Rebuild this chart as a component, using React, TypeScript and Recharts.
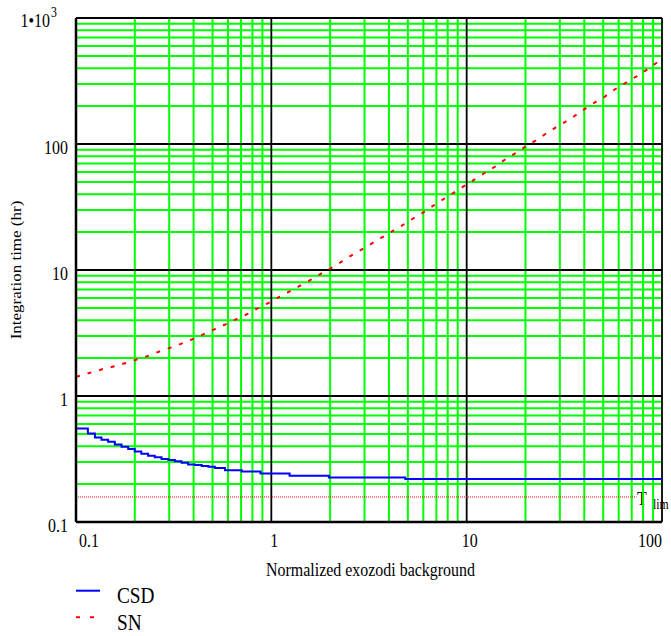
import { Customized, Line, LineChart, ReferenceLine, XAxis, YAxis } from "recharts";

// SN curve (red dashed)
const snX = [
  0.1, 0.12, 0.14, 0.16, 0.18, 0.21, 0.24, 0.27, 0.31, 0.36, 0.41, 0.47, 0.53, 0.6, 0.68, 0.77, 0.86,
  0.97, 1.1, 1.24, 1.39, 1.57, 1.78, 2.01, 2.26, 2.55, 2.87, 3.24, 3.65, 4.11, 4.68, 5.27, 5.97, 6.75,
  7.53, 8.52, 9.5, 10.8, 12.3, 13.9, 15.8, 17.8, 19.9, 22.6, 25.3, 28.5, 32, 36.1, 40.3, 45.5, 51,
  57.7, 65.2, 74.5, 84.5, 95, 100,
];
const snY = [
  1.42, 1.54, 1.65, 1.73, 1.83, 1.97, 2.11, 2.27, 2.44, 2.66, 2.89, 3.19, 3.47, 3.78, 4.15, 4.54, 5.01,
  5.49, 6.13, 6.76, 7.45, 8.26, 9.27, 10.3, 11.5, 12.97, 14.4, 16.1, 18.0, 20.1, 22.6, 25.4, 28.5, 32.4,
  36.1, 40.8, 45.4, 51.5, 58.6, 65.8, 75.7, 84.5, 94.8, 107, 120, 135, 150, 169, 190, 215, 238,
  273, 306, 346, 393, 447, 470,
];

// CSD curve (blue, stepped)
const csdX = [
  0.1, 0.115, 0.125, 0.135, 0.146, 0.158, 0.171, 0.185, 0.2, 0.216, 0.234, 0.253, 0.274, 0.297, 0.321,
  0.347, 0.375, 0.406, 0.44, 0.476, 0.514, 0.579, 0.705, 0.88, 1.24, 1.97, 4.85, 100,
];
const csdY = [
  0.553, 0.505, 0.469, 0.45, 0.434, 0.413, 0.396, 0.379, 0.363, 0.348, 0.336, 0.326, 0.316, 0.31, 0.303,
  0.295, 0.286, 0.283, 0.278, 0.2745, 0.268, 0.258, 0.252, 0.243, 0.233, 0.226, 0.219, 0.219,
];

// T lim reference level
const tlimX = [0.1, 74];
const tlimY = [0.158, 0.158];

const xTicks = [0.1, 1, 10, 100];
const yTicks = [0.1, 1, 10, 100, 1000];
const xMinor = [
  0.2, 0.3, 0.4, 0.5, 0.6, 0.7, 0.8, 0.9, 2, 3, 4, 5, 6, 7, 8, 9, 20, 30, 40, 50, 60, 70, 80, 90,
];
const yMinor = [
  0.2, 0.3, 0.4, 0.5, 0.6, 0.7, 0.8, 0.9, 2, 3, 4, 5, 6, 7, 8, 9, 20, 30, 40, 50, 60, 70, 80, 90,
  200, 300, 400, 500, 600, 700, 800, 900,
];

const zip = (xs: number[], ys: number[]) => xs.map((x, i) => ({ x, y: ys[i] }));
const snData = zip(snX, snY);
const csdData = zip(csdX, csdY);
const tlimData = zip(tlimX, tlimY);

const FONT = '"Liberation Serif", "Times New Roman", "DejaVu Serif", serif';
const W = 671;
const H = 636;
const PLOT = { left: 76, top: 18, right: 662, bottom: 522 };

function SText({ x, y, size, anchor = "start", children }: any) {
  return (
    <text
      transform={`translate(${x},${y}) scale(0.84,1)`}
      textAnchor={anchor}
      fill="#000"
      style={{ fontFamily: FONT, fontSize: size }}
    >
      {children}
    </text>
  );
}

function XTick({ x, payload, index, visibleTicksCount }: any) {
  const anchor = index === 0 ? "start" : index === visibleTicksCount - 1 ? "end" : "middle";
  return (
    <SText x={x + 3} y={PLOT.bottom + 25} size={19} anchor={anchor}>
      {payload.value}
    </SText>
  );
}

function YTick({ y, payload }: any) {
  if (payload.value === 1000) {
    return (
      <g>
        <SText x={50} y={y + 9} size={19} anchor="end">
          1•10
        </SText>
        <SText x={51} y={y - 1} size={14}>
          3
        </SText>
      </g>
    );
  }
  return (
    <SText x={68} y={y + 10} size={19} anchor="end">
      {payload.value}
    </SText>
  );
}

function Overlay() {
  return (
    <g>
      {/* T lim label */}
      <rect x={636} y={490} width={35} height={21} fill="#fff" />
      <SText x={637} y={505} size={19}>
        T
      </SText>
      <SText x={653} y={509} size={14}>
        lim
      </SText>
      {/* axis titles */}
      <SText x={370.5} y={576} size={19} anchor="middle">
        Normalized exozodi background
      </SText>
      <text
        transform="translate(21,270) scale(0.85,1) rotate(-90)"
        textAnchor="middle"
        fill="#000"
        style={{ fontFamily: FONT, fontSize: 17 }}
      >
        Integration time (hr)
      </text>
      {/* legend */}
      <line x1={76} x2={100} y1={590.7} y2={590.7} stroke="#0000ff" strokeWidth={2} />
      <SText x={117} y={602.7} size={23}>
        CSD
      </SText>
      <line
        x1={76}
        x2={96}
        y1={617.3}
        y2={617.3}
        stroke="#ff0000"
        strokeWidth={2}
        strokeDasharray="4 10"
      />
      <SText x={117} y={630} size={23}>
        SN
      </SText>
    </g>
  );
}

export default function App() {
  return (
    <div style={{ position: "absolute", left: 0, top: 0, width: W, height: H, background: "#fff" }}>
      <LineChart
        width={W}
        height={H}
        margin={{ top: PLOT.top, right: W - PLOT.right, bottom: H - PLOT.bottom - 30, left: 0 }}
      >
        <XAxis
          dataKey="x"
          type="number"
          scale="log"
          domain={[0.1, 100]}
          allowDataOverflow
          ticks={xTicks}
          tick={<XTick />}
          tickLine={false}
          height={30}
          axisLine={{ stroke: "#000", strokeWidth: 2.5 }}
        />
        <YAxis
          dataKey="y"
          type="number"
          scale="log"
          domain={[0.1, 1000]}
          allowDataOverflow
          ticks={yTicks}
          tick={<YTick />}
          tickLine={false}
          width={PLOT.left}
          axisLine={{ stroke: "#000", strokeWidth: 2.5 }}
        />
        {xMinor.map((v) => (
          <ReferenceLine key={`gx${v}`} x={v} stroke="#00ff00" strokeWidth={2} />
        ))}
        {yMinor.map((v) => (
          <ReferenceLine key={`gy${v}`} y={v} stroke="#00ff00" strokeWidth={2} />
        ))}
        {xTicks.map((v) => (
          <ReferenceLine key={`mx${v}`} x={v} stroke="#000" strokeWidth={1.8} />
        ))}
        {yTicks.map((v) => (
          <ReferenceLine key={`my${v}`} y={v} stroke="#000" strokeWidth={1.8} />
        ))}
        <Line
          data={tlimData}
          dataKey="y"
          type="linear"
          stroke="#ff0000"
          strokeWidth={1}
          strokeDasharray="1 1"
          dot={false}
          activeDot={false}
          isAnimationActive={false}
        />
        <Line
          data={csdData}
          dataKey="y"
          type="stepAfter"
          stroke="#0000ff"
          strokeWidth={2}
          dot={false}
          activeDot={false}
          isAnimationActive={false}
        />
        <Line
          data={snData}
          dataKey="y"
          type="linear"
          stroke="#ff0000"
          strokeWidth={2}
          strokeDasharray="4 8"
          dot={false}
          activeDot={false}
          isAnimationActive={false}
        />
        <Customized component={Overlay} />
      </LineChart>
    </div>
  );
}
